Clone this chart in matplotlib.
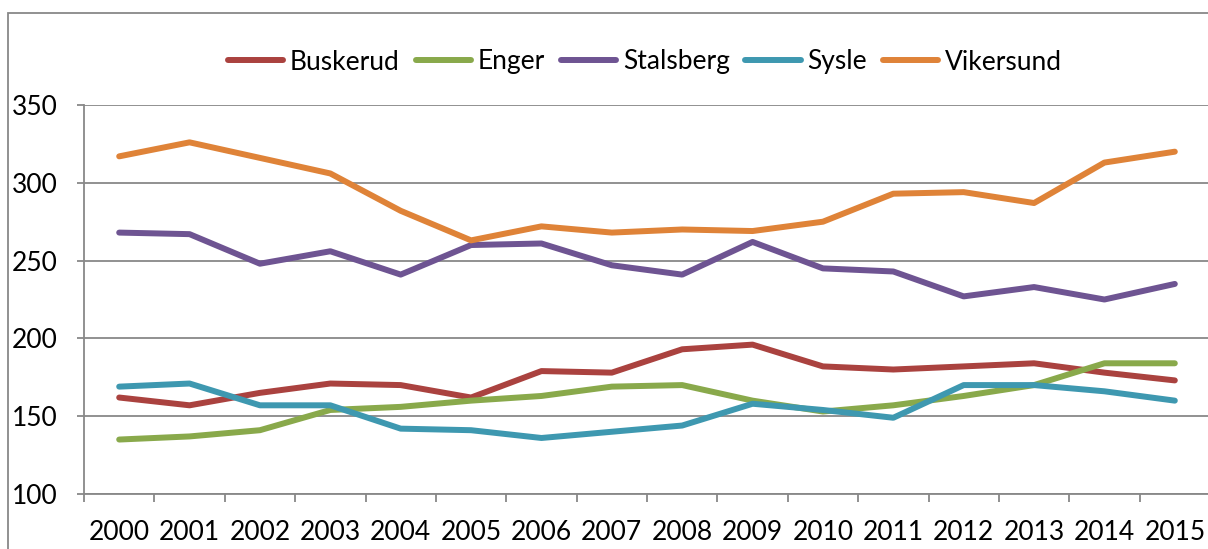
import numpy as np
import matplotlib
matplotlib.use("Agg")
import matplotlib.pyplot as plt
from matplotlib.patches import Rectangle

# data
years = [str(y) for y in range(2000, 2016)]
buskerud = [162, 157, 165, 171, 170, 162, 179, 178, 193, 196, 182, 180, 182, 184, 178, 173]
enger = [135, 137, 141, 154, 156, 160, 163, 169, 170, 160, 153, 157, 163, 170, 184, 184]
stalsberg = [268, 267, 248, 256, 241, 260, 261, 247, 241, 262, 245, 243, 227, 233, 225, 235]
sysle = [169, 171, 157, 157, 142, 141, 136, 140, 144, 158, 154, 149, 170, 170, 166, 160]
vikersund = [317, 326, 316, 306, 282, 263, 272, 268, 270, 269, 275, 293, 294, 287, 313, 320]

series = [
    ("Buskerud", buskerud, "#AA423F"),
    ("Enger", enger, "#89A94B"),
    ("Stalsberg", stalsberg, "#6E5492"),
    ("Sysle", sysle, "#3E98B0"),
    ("Vikersund", vikersund, "#DF8338"),
]

plt.rcParams['font.family'] = ['Lato', 'DejaVu Sans']
grey = "#888888"
fs = 19

fig = plt.figure(figsize=(12.08, 5.49), dpi=100)
W, H = 1208, 549
ax = fig.add_axes([84 / W, 1 - 494 / H, 1126 / W, (494 - 105) / H])

x = np.arange(len(years)) + 0.5
lines = []
for name, vals, col in series:
    ln, = ax.plot(x, vals, color=col, lw=4.3, solid_capstyle='round',
                  solid_joinstyle='round', label=name)
    lines.append(ln)

ax.set_xlim(0, len(years))
ax.set_ylim(100, 350)
ax.set_yticks(range(100, 351, 50))
ax.yaxis.grid(True, color=grey, lw=1.3)
ax.set_axisbelow(True)

# category boundaries as tick marks, labels at centres
ax.set_xticks(np.arange(len(years) + 1))
ax.set_xticklabels([])
ax.set_xticks(x, minor=True)
ax.set_xticklabels(years, minor=True)
ax.tick_params(axis='x', which='major', length=6, width=1.3, color=grey)
ax.tick_params(axis='x', which='minor', length=0, pad=19, labelsize=fs)
ax.tick_params(axis='y', length=5, width=1.3, color=grey, pad=14, labelsize=fs)

for s in ['top', 'right']:
    ax.spines[s].set_visible(False)
for s in ['left', 'bottom']:
    ax.spines[s].set_color(grey)
    ax.spines[s].set_linewidth(1.3)

fig.legend(handles=lines, loc='center', bbox_to_anchor=(645 / W, 1 - 62 / H),
           ncol=5, frameon=False, fontsize=fs, handlelength=2.1,
           handletextpad=0.25, columnspacing=0.6)

# outer chart border
fig.patches.append(Rectangle((8 / W, -0.05), 1.1, 1 - 13 / H + 0.05,
                             transform=fig.transFigure, fill=False,
                             edgecolor=grey, lw=1.3))

fig.savefig("out.png", dpi=100)
